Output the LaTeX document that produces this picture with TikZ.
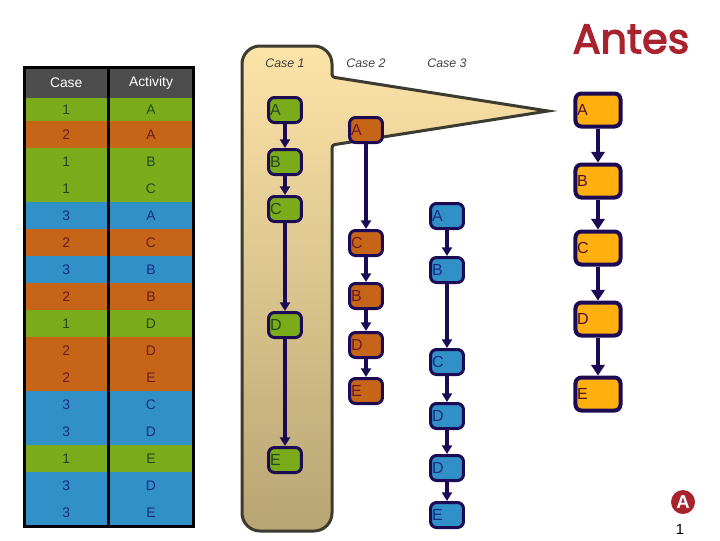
\documentclass[tikz,border=0pt]{standalone}
\usepackage{fontspec}
\setmainfont{Liberation Sans}
\newfontfamily\logofont[FakeBold=3]{Poppins}
\usepackage{xcolor}
\usepackage{tikz}
\usetikzlibrary{arrows.meta,positioning,fit}
\definecolor{antesGreen}{HTML}{7AAB1A}
\definecolor{antesOrange}{HTML}{C66417}
\definecolor{antesBlue}{HTML}{3090C7}
\definecolor{antesYellow}{HTML}{FFB00F}
\definecolor{antesHead}{HTML}{4D4D4D}
\definecolor{antesNavy}{HTML}{1C0A55}
\definecolor{antesRed}{HTML}{A9232F}
\definecolor{antesEdge}{HTML}{3D3A30}
\definecolor{antesGreenText}{HTML}{1F4A20}
\definecolor{antesOrangeText}{HTML}{6E1A25}
\definecolor{antesBlueText}{HTML}{1C2A85}
\definecolor{antesYellowText}{HTML}{4A0F2A}
\definecolor{antesPanelTop}{HTML}{FCE3A8}
\definecolor{antesPanelBottom}{HTML}{B8A573}

\begin{document}
\begin{tikzpicture}[x=0.75pt, y=-0.75pt]
\tikzset{cell/.style={rectangle, minimum width=63pt, minimum height=20.25pt, inner sep=0pt, outer sep=0pt, font=\fontsize{10.4}{12}\selectfont},
 cellwide/.style={minimum width=64.2pt},
 cellhead/.style={cell, fill=antesHead, text=white, minimum height=22.9pt},
 cellgreen/.style={cell, fill=antesGreen, text=antesGreenText},
 cellorange/.style={cell, fill=antesOrange, text=antesOrangeText},
 cellblue/.style={cell, fill=antesBlue, text=antesBlueText},
 activity/.style={rectangle, rounded corners=4.5pt, draw=antesNavy, line width=2.25pt,
  text width=22.5pt, inner xsep=1.1pt, inner ysep=0pt, align=left, minimum height=18.75pt,
  font=\fontsize{12}{14}\selectfont},
 casegreen/.style={activity, fill=antesGreen, text=antesGreenText},
 caseorange/.style={activity, fill=antesOrange, text=antesOrangeText},
 caseblue/.style={activity, fill=antesBlue, text=antesBlueText},
 caseyellow/.style={activity, fill=antesYellow, text=antesYellowText, line width=3pt, text width=31.4pt, inner xsep=1.2pt, minimum height=24.75pt},
 arr/.style={-{Triangle[length=6.5pt, width=7.5pt]}, draw=antesNavy, line width=2.5pt},
 arrbig/.style={-{Triangle[length=8pt, width=10pt]}, draw=antesNavy, line width=3.2pt},
 caselabel/.style={font=\fontsize{9.3}{11}\selectfont\itshape, text=black!75},
 panel/.style={draw=antesEdge, line width=2.25pt, top color=antesPanelTop, bottom color=antesPanelBottom}}
\useasboundingbox (0,0) rectangle (720,540);

% the Case 1 panel and its callout
\draw[panel, rounded corners=13.5pt] (242,288) -- (242,46) -- (332,46) [rounded corners=2pt] -- (332,77)
  [sharp corners] -- (548,111) [rounded corners=2pt] -- (332,145) [rounded corners=13.5pt] -- (332,531) -- (242,531) -- cycle;

% event table
\node[cellhead] (hcase) at (66.2,83) {Case};
\node[cellhead, cellwide, right=0pt of hcase] (hact) {Activity};
\node[cellgreen, minimum height=17.25pt, below=0pt of hcase] (r1c) {1};
\node[cellgreen, cellwide, minimum height=17.25pt, right=0pt of r1c] (r1a) {A};
\node[cellorange, below=0pt of r1c] (r2c) {2};
\node[cellorange, cellwide, right=0pt of r2c] (r2a) {A};
\node[cellgreen, below=0pt of r2c] (r3c) {1};
\node[cellgreen, cellwide, right=0pt of r3c] (r3a) {B};
\node[cellgreen, below=0pt of r3c] (r4c) {1};
\node[cellgreen, cellwide, right=0pt of r4c] (r4a) {C};
\node[cellblue, below=0pt of r4c] (r5c) {3};
\node[cellblue, cellwide, right=0pt of r5c] (r5a) {A};
\node[cellorange, below=0pt of r5c] (r6c) {2};
\node[cellorange, cellwide, right=0pt of r6c] (r6a) {C};
\node[cellblue, below=0pt of r6c] (r7c) {3};
\node[cellblue, cellwide, right=0pt of r7c] (r7a) {B};
\node[cellorange, below=0pt of r7c] (r8c) {2};
\node[cellorange, cellwide, right=0pt of r8c] (r8a) {B};
\node[cellgreen, below=0pt of r8c] (r9c) {1};
\node[cellgreen, cellwide, right=0pt of r9c] (r9a) {D};
\node[cellorange, below=0pt of r9c] (r10c) {2};
\node[cellorange, cellwide, right=0pt of r10c] (r10a) {D};
\node[cellorange, below=0pt of r10c] (r11c) {2};
\node[cellorange, cellwide, right=0pt of r11c] (r11a) {E};
\node[cellblue, below=0pt of r11c] (r12c) {3};
\node[cellblue, cellwide, right=0pt of r12c] (r12a) {C};
\node[cellblue, below=0pt of r12c] (r13c) {3};
\node[cellblue, cellwide, right=0pt of r13c] (r13a) {D};
\node[cellgreen, below=0pt of r13c] (r14c) {1};
\node[cellgreen, cellwide, right=0pt of r14c] (r14a) {E};
\node[cellblue, below=0pt of r14c] (r15c) {3};
\node[cellblue, cellwide, right=0pt of r15c] (r15a) {D};
\node[cellblue, below=0pt of r15c] (r16c) {3};
\node[cellblue, cellwide, right=0pt of r16c] (r16a) {E};
\node[draw=black, line width=2.25pt, inner sep=0pt, fit=(hcase)(r16a)] (frame) {};
\draw[black, line width=2.25pt] (hcase.north east) -- (r16c.south east);

% case labels
\node[caselabel] (lab1) at (285,63) {Case 1};
\node[caselabel] (lab2) at (366,63) {Case 2};
\node[caselabel] (lab3) at (447,63) {Case 3};

% case 1
\node[casegreen] (a1) at (285,110) {A};
\node[casegreen, below=18pt of a1] (a2) {B};
\node[casegreen, below=14.25pt of a2] (a3) {C};
\node[casegreen, below=66pt of a3] (a4) {D};
\node[casegreen, below=80.25pt of a4] (a5) {E};

% case 2
\node[caseorange] (b1) at (366,130) {A};
\node[caseorange, below=63.75pt of b1] (b2) {C};
\node[caseorange, below=18.75pt of b2] (b3) {B};
\node[caseorange, below=15.75pt of b3] (b4) {D};
\node[caseorange, below=13.5pt of b4] (b5) {E};

% case 3
\node[caseblue] (c1) at (447,216) {A};
\node[caseblue, below=19.5pt of c1] (c2) {B};
\node[caseblue, below=48pt of c2] (c3) {C};
\node[caseblue, below=19.5pt of c3] (c4) {D};
\node[caseblue, below=18pt of c4] (c5) {D};
\node[caseblue, below=14.25pt of c5] (c6) {E};

% merged model
\node[caseyellow] (m1) at (598,110) {A};
\node[caseyellow, below=25.5pt of m1] (m2) {B};
\node[caseyellow, below=22.5pt of m2] (m3) {C};
\node[caseyellow, below=25.5pt of m3] (m4) {D};
\node[caseyellow, below=28.5pt of m4] (m5) {E};

\draw[arr] (a1) -- (a2); \draw[arr] (a2) -- (a3); \draw[arr] (a3) -- (a4); \draw[arr] (a4) -- (a5);
\draw[arr] (b1) -- (b2); \draw[arr] (b2) -- (b3); \draw[arr] (b3) -- (b4); \draw[arr] (b4) -- (b5);
\draw[arr] (c1) -- (c2); \draw[arr] (c2) -- (c3); \draw[arr] (c3) -- (c4); \draw[arr] (c4) -- (c5); \draw[arr] (c5) -- (c6);
\draw[arrbig] (m1) -- (m2); \draw[arrbig] (m2) -- (m3); \draw[arrbig] (m3) -- (m4); \draw[arrbig] (m4) -- (m5);

% logo and page number
\node[inner sep=0pt, text=antesRed, font=\logofont\fontsize{31}{31}\selectfont] (logo) at (631,39) {Antes};
\node[circle, fill=antesRed, minimum size=18pt, inner sep=0pt, text=white, font=\fontsize{14}{14}\selectfont\bfseries] (badge) at (683,502) {A};
\node[font=\fontsize{11}{12}\selectfont] (page) at (680,529) {1};
\end{tikzpicture}
\end{document}
